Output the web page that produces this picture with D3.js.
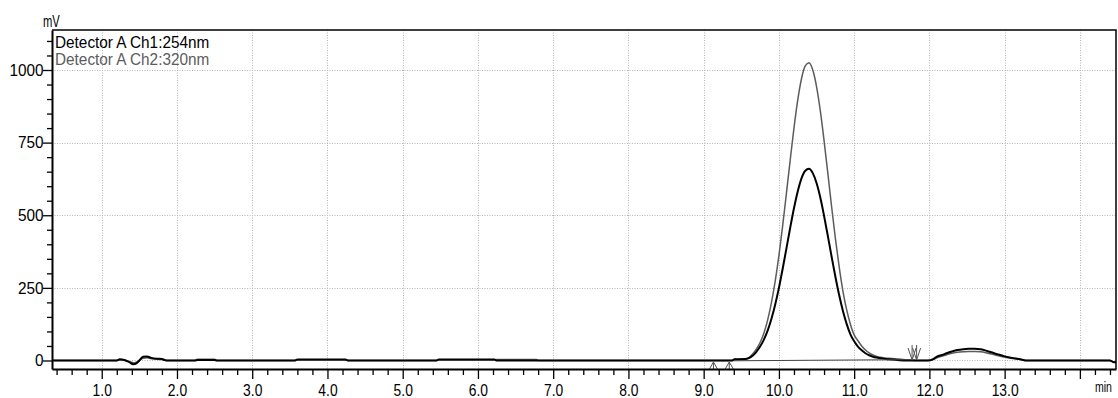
<!DOCTYPE html>
<html>
<head>
<meta charset="utf-8">
<script src="https://cdn.jsdelivr.net/npm/d3@7"></script>
<style>
  html, body { margin: 0; padding: 0; background: #fff; }
  svg { display: block; font-family: "Liberation Sans", Arial, sans-serif; }
</style>
</head>
<body>
<script>
// Retention time (min) shared by both detector channels
const retentionTime = [
  0.34, 1.20, 1.24, 1.30, 1.36, 1.42, 1.46, 1.50, 1.55, 1.60, 1.66, 1.74, 1.80, 1.86,
  2.24, 2.27, 2.50, 2.53, 3.56, 3.60, 4.24, 4.28, 5.44, 5.48, 6.22, 6.25, 6.78, 6.81,
  9.38, 9.41, 9.55, 9.60, 9.65, 9.70, 9.75, 9.80, 9.85, 9.90, 9.95, 10.00, 10.05, 10.10,
  10.15, 10.20, 10.25, 10.30, 10.35, 10.40, 10.45, 10.50, 10.55, 10.60, 10.65, 10.70,
  10.75, 10.80, 10.85, 10.90, 10.95, 11.00, 11.05, 11.10, 11.15, 11.20, 11.25, 11.30,
  11.35, 11.40, 11.50, 11.60, 11.70, 11.80, 11.98, 12.05, 12.10, 12.17, 12.23, 12.30,
  12.37, 12.45, 12.52, 12.60, 12.68, 12.75, 12.81, 12.90, 12.99, 13.10, 13.21, 13.28,
  14.40, 14.44, 14.48
];

// Detector A Ch1: 254 nm (mV)
const ch1Signal = [
  0, 0, 4, 2, -5, -13, -10, 0, 13, 14, 9, 6, 5, 0,
  0, 2, 2, 0, 0, 3, 3, 0, 0, 3, 3, 0, 0, 0,
  0, 4, 5, 8, 16, 30, 48, 72, 103, 143, 192, 250, 316, 386,
  457, 524, 582, 627, 653, 660, 645, 611, 561, 498, 429, 358,
  289, 226, 171, 126, 90, 66, 48, 35, 25, 18, 13, 10,
  8, 6, 3, 1, 0, 0, 0, 5, 13, 19, 25, 31,
  36, 39, 40, 40, 39, 34, 29, 22, 15, 9, 4, 0,
  0, -5, -6
];

// Detector A Ch2: 320 nm (mV)
const ch2Signal = [
  0, 0, 2, 1, -3, -8, -6, 0, 8, 9, 6, 4, 3, 0,
  0, 4, 4, 0, 0, 2, 2, 0, 0, 2, 2, 3, 3, 0,
  0, 3, 5, 10, 22, 39, 62, 94, 139, 198, 272, 361, 464, 576,
  690, 800, 896, 970, 1014, 1025, 1000, 943, 860, 757, 645, 530,
  421, 324, 240, 175, 125, 88, 68, 50, 36, 26, 19, 14,
  11, 9, 7, 5, 2, 0, 0, 3, 9, 15, 20, 25,
  28, 30, 31, 31, 30, 27, 23, 17, 12, 7, 3, 0,
  0, -4, -5
];

// Integration marks: peak start (up) and peak end (down), and the drawn baseline
const peakStartTimes = [9.13, 9.34];
const peakEndTimes = [11.77, 11.83];
const baselineTime = [9.40, 11.80];
const baselineSignal = [-1, 3];

// Axis ticks and labels
const xMajorTicks = [1, 2, 3, 4, 5, 6, 7, 8, 9, 10, 11, 12, 13, 14];
const xTickLabels = ["1.0", "2.0", "3.0", "4.0", "5.0", "6.0", "7.0", "8.0", "9.0", "10.0", "11.0", "12.0", "13.0", ""];
const yMajorTicks = [0, 250, 500, 750, 1000];
const yTickLabels = ["0", "250", "500", "750", "1000"];
const seriesNames = ["Detector A Ch1:254nm", "Detector A Ch2:320nm"];
const seriesColors = ["#000000", "#5c5c5c"];

const W = 1118, H = 398;
const plot = { left: 52, right: 1116, top: 30, bottom: 369 };

const x = d3.scaleLinear().domain([0.339, 14.48]).range([plot.left, plot.right]);
const y = d3.scaleLinear().domain([-29.3, 1137.7]).range([plot.bottom, plot.top]);

const svg = d3.select("body").append("svg").attr("width", W).attr("height", H);

svg.append("defs").append("clipPath").attr("id", "plotClip")
  .append("rect")
  .attr("x", plot.left).attr("y", plot.top)
  .attr("width", plot.right - plot.left).attr("height", plot.bottom - plot.top);

// Dotted grid
const grid = svg.append("g").attr("stroke", "#b4b4b4").attr("stroke-width", 1)
  .attr("stroke-dasharray", "1,1.5");
grid.selectAll("line.gx").data(xMajorTicks).join("line").attr("class", "gx")
  .attr("x1", d => Math.round(x(d)) + 0.5).attr("x2", d => Math.round(x(d)) + 0.5)
  .attr("y1", plot.top).attr("y2", plot.bottom);
grid.selectAll("line.gy").data(yMajorTicks).join("line").attr("class", "gy")
  .attr("x1", plot.left).attr("x2", plot.right)
  .attr("y1", d => Math.round(y(d)) + 0.5).attr("y2", d => Math.round(y(d)) + 0.5);

// Traces
const rows = retentionTime.map((t, i) => ({ t, v1: ch1Signal[i], v2: ch2Signal[i] }));
const traces = svg.append("g").attr("clip-path", "url(#plotClip)").attr("fill", "none");

traces.append("path").datum(rows)
  .attr("stroke", seriesColors[1]).attr("stroke-width", 1.5)
  .attr("d", d3.line().x(d => x(d.t)).y(d => y(d.v2)).curve(d3.curveMonotoneX));

traces.append("path").datum(rows)
  .attr("stroke", seriesColors[0]).attr("stroke-width", 2)
  .attr("d", d3.line().x(d => x(d.t)).y(d => y(d.v1)).curve(d3.curveMonotoneX));

traces.append("path").datum(baselineTime.map((t, i) => ({ t, v: baselineSignal[i] })))
  .attr("stroke", "#444").attr("stroke-width", 1)
  .attr("d", d3.line().x(d => x(d.t)).y(d => y(d.v)));

// Peak start / end markers
const marks = svg.append("g").attr("fill", "none").attr("stroke", "#555").attr("stroke-width", 1);
marks.selectAll("path.start").data(peakStartTimes).join("path").attr("class", "start")
  .attr("d", d => {
    const px = x(d), py = y(0) + 1.5;
    return `M${px - 4},${py + 7}L${px},${py}L${px + 4},${py + 7}M${px},${py}L${px},${py + 7}`;
  });
marks.selectAll("path.end").data(peakEndTimes).join("path").attr("class", "end")
  .attr("d", d => {
    const px = x(d), py = y(0) - 0.5;
    return `M${px - 4},${py - 12}L${px},${py}L${px + 4},${py - 12}M${px},${py - 15}L${px},${py}`;
  });

// Axes
const fontSize = 16.5;

const xMinor = d3.range(2, 73).map(i => i * 0.2).filter(v => Math.abs(v - Math.round(v)) > 1e-6);
svg.append("g").attr("transform", `translate(0,${plot.bottom})`)
  .call(d3.axisBottom(x).tickValues(xMinor).tickSize(6).tickSizeOuter(0).tickFormat(""))
  .call(g => g.select(".domain").remove())
  .call(g => g.selectAll(".tick line").attr("stroke", "#000").attr("stroke-width", 1.3));

const xAxis = svg.append("g").attr("transform", `translate(0,${plot.bottom})`)
  .call(d3.axisBottom(x).tickValues(xMajorTicks).tickSize(10).tickSizeOuter(0).tickPadding(5)
    .tickFormat((d, i) => xTickLabels[i]));
xAxis.select(".domain").attr("stroke", "#000").attr("stroke-width", 2);
xAxis.selectAll(".tick line").attr("stroke", "#000").attr("stroke-width", 1.3);
xAxis.selectAll(".tick text").attr("fill", "#000").attr("font-size", fontSize)
  .attr("font-family", "Liberation Sans, Arial, sans-serif")
  .attr("transform", "scale(0.84,1)");

const yMinor = d3.range(1, 23).map(i => i * 50).filter(v => v % 250 !== 0);
svg.append("g").attr("transform", `translate(${plot.left},0)`)
  .call(d3.axisLeft(y).tickValues(yMinor).tickSize(5).tickSizeOuter(0).tickFormat(""))
  .call(g => g.select(".domain").remove())
  .call(g => g.selectAll(".tick line").attr("stroke", "#000").attr("stroke-width", 1.3));

const yAxis = svg.append("g").attr("transform", `translate(${plot.left},0)`)
  .call(d3.axisLeft(y).tickValues(yMajorTicks).tickSize(9).tickSizeOuter(0).tickPadding(0)
    .tickFormat((d, i) => yTickLabels[i]));
yAxis.select(".domain").attr("stroke", "#000").attr("stroke-width", 2);
yAxis.selectAll(".tick line").attr("stroke", "#000").attr("stroke-width", 1.3);
yAxis.selectAll(".tick text").attr("fill", "#000").attr("font-size", fontSize)
  .attr("font-family", "Liberation Sans, Arial, sans-serif")
  .attr("transform", "scale(0.93,1)");

// Top and right frame
svg.append("path")
  .attr("d", `M${plot.left},${plot.top}H${plot.right}V${plot.bottom}`)
  .attr("fill", "none").attr("stroke", "#000").attr("stroke-width", 1.5);

// Unit labels
svg.append("text").attr("transform", `translate(43,27) scale(0.68,1)`)
  .attr("font-size", fontSize).attr("fill", "#000").text("mV");
svg.append("text").attr("transform", `translate(1095,392) scale(0.68,1)`)
  .attr("font-size", 15.5).attr("fill", "#000").text("min");

// Legend
svg.append("g").selectAll("text").data(seriesNames).join("text")
  .attr("transform", (d, i) => `translate(55,${47.5 + i * 17.5}) scale(0.93,1)`)
  .attr("font-size", fontSize).attr("fill", (d, i) => seriesColors[i])
  .text(d => d);
</script>
</body>
</html>
